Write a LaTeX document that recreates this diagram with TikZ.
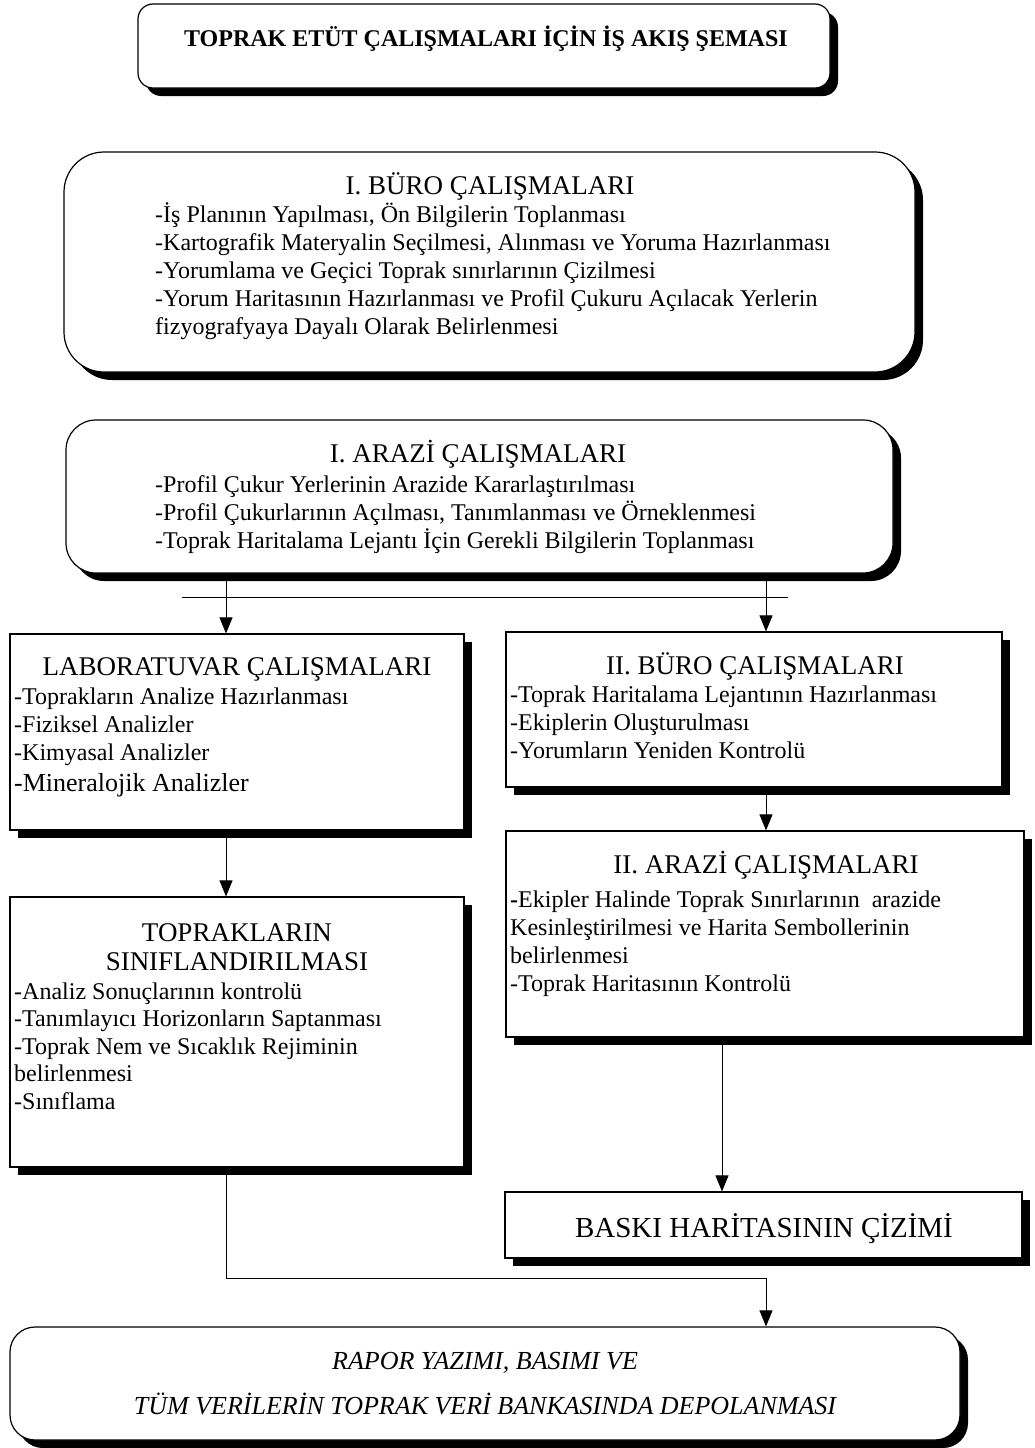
\documentclass[tikz,border=0pt]{standalone}
\usepackage{fontspec}
\setmainfont{Liberation Serif}
\usetikzlibrary{positioning,shadows,arrows.meta}

\begin{document}
\begin{tikzpicture}[
        x=1pt,
        y=-1pt,
        block/.style={
            rectangle,
            draw,
            fill=white,
            line width=1.2pt,
            drop shadow={shadow xshift=8pt,shadow yshift=-8pt,opacity=1,fill=black}
        },
        roundblock/.style={
            block,
            rounded corners=#1
        },
        heading/.style={
            anchor=base,
            inner sep=0pt,
            font=\fontsize{27}{29}\selectfont
        },
        items/.style={
            anchor=base west,
            inner sep=0pt,
            align=left,
            font=\fontsize{24}{28}\selectfont
        },
        line/.style={
            draw,
            line width=0.9pt,
            -{Triangle[length=16pt,width=13pt]}
        },
      ]
        \useasboundingbox (0,0) rectangle (1035,1448);
        % boxes
        \node [roundblock=15pt,minimum width=692pt,minimum height=84pt] (title) at (484,46) {};
        \node [roundblock=40pt,minimum width=851pt,minimum height=220pt] (buro1) at (489.5,262) {};
        \node [roundblock=30pt,minimum width=827pt,minimum height=153pt] (arazi1) at (479.5,496.5) {};
        \node [block,minimum width=454pt,minimum height=196pt] (lab) at (237,732) {};
        \node [block,minimum width=496pt,minimum height=155pt] (buro2) at (754,709.5) {};
        \node [block,minimum width=518pt,minimum height=206pt] (arazi2) at (765,934) {};
        \node [block,minimum width=454pt,minimum height=270pt] (siniflama) at (237,1032) {};
        \node [block,minimum width=517pt,minimum height=66pt] (baski) at (763.5,1225) {};
        \node [roundblock=25pt,minimum width=950pt,minimum height=113pt] (rapor) at (485,1383.5) {};
        % texts (base = last line)
        \node [heading,font=\bfseries\fontsize{24}{28}\selectfont] (title-text) at (486,46) {TOPRAK ETÜT ÇALIŞMALARI İÇİN İŞ AKIŞ ŞEMASI};
        \node [heading] (buro1-head) at (490,194) {I. BÜRO ÇALIŞMALARI};
        \node [items] (buro1-items) at (155,334) {-İş Planının Yapılması, Ön Bilgilerin Toplanması\\-Kartografik Materyalin Seçilmesi, Alınması ve Yoruma Hazırlanması\\-Yorumlama ve Geçici Toprak sınırlarının Çizilmesi\\-Yorum Haritasının Hazırlanması ve Profil Çukuru Açılacak Yerlerin\\fizyografyaya Dayalı Olarak Belirlenmesi};
        \node [heading] (arazi1-head) at (478,462) {I. ARAZİ ÇALIŞMALARI};
        \node [items] (arazi1-items) at (155,548) {-Profil Çukur Yerlerinin Arazide Kararlaştırılması\\-Profil Çukurlarının Açılması, Tanımlanması ve Örneklenmesi\\-Toprak Haritalama Lejantı İçin Gerekli Bilgilerin Toplanması};
        \node [heading] (lab-head) at (237,675) {LABORATUVAR ÇALIŞMALARI};
        \node [items] (lab-items) at (14,791) {-Toprakların Analize Hazırlanması\\-Fiziksel Analizler\\-Kimyasal Analizler\\[3pt]{\fontsize{26}{28}\selectfont -Mineralojik Analizler}};
        \node [heading] (buro2-head) at (755,674) {II. BÜRO ÇALIŞMALARI};
        \node [items] (buro2-items) at (510,758) {-Toprak Haritalama Lejantının Hazırlanması\\-Ekiplerin Oluşturulması\\-Yorumların Yeniden Kontrolü};
        \node [heading] (arazi2-head) at (766,873) {II. ARAZİ ÇALIŞMALARI};
        \node [items] (arazi2-items) at (510,991) {\textbf{-}Ekipler Halinde Toprak Sınırlarının~ arazide\\Kesinleştirilmesi ve Harita Sembollerinin\\belirlenmesi\\-Toprak Haritasının Kontrolü};
        \node [heading,align=center] (siniflama-head) at (237,970) {TOPRAKLARIN\\SINIFLANDIRILMASI};
        \node [items,font=\fontsize{24}{27.5}\selectfont] (siniflama-items) at (14,1109) {-Analiz Sonuçlarının kontrolü\\-Tanımlayıcı Horizonların Saptanması\\-Toprak Nem ve Sıcaklık Rejiminin\\belirlenmesi\\-Sınıflama};
        \node [heading,font=\fontsize{29}{30}\selectfont] (baski-text) at (764,1237) {BASKI HARİTASININ ÇİZİMİ};
        \node [heading,align=center,font=\itshape\fontsize{26}{45}\selectfont] (rapor-text) at (485,1414) {RAPOR YAZIMI, BASIMI VE\\TÜM VERİLERİN TOPRAK VERİ BANKASINDA DEPOLANMASI};
        % connectors
        \coordinate (left-col) at (226,0);
        \coordinate (right-col) at (766,0);
        \coordinate (baski-col) at (722,0);
        \coordinate (bar-left) at (182,597);
        \coordinate (bar-right) at (788,597);
        \coordinate (elbow) at (766,1278);
        \draw [line width=0.8pt] (bar-left) -- (bar-right);
        \path [line] (arazi1.south -| left-col) -- (lab.north -| left-col);
        \path [line] (arazi1.south -| right-col) -- (buro2.north -| right-col);
        \path [line] (buro2.south -| right-col) -- (arazi2.north -| right-col);
        \path [line] (lab.south -| left-col) -- (siniflama.north -| left-col);
        \path [line] (arazi2.south -| baski-col) -- (baski.north -| baski-col);
        \path [line] (siniflama.south -| left-col) |- (elbow) -- (rapor.north -| elbow);
      \end{tikzpicture}
\end{document}
